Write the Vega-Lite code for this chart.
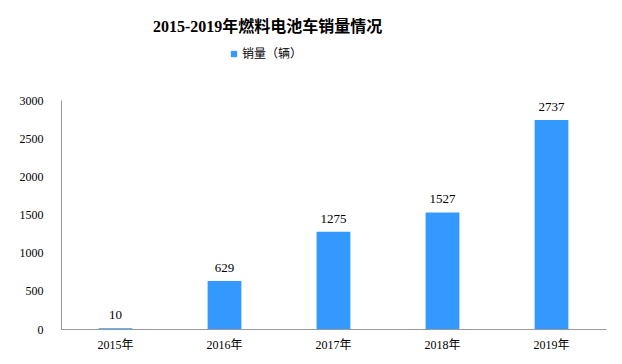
{
  "$schema": "https://vega.github.io/schema/vega-lite/v6.json",
  "width": 545,
  "height": 229,
  "autosize": "none",
  "padding": {"left": 61, "top": 100, "right": 16, "bottom": 35},
  "background": "white",
  "config": {"view": {"stroke": null}},
  "title": {
    "text": "2015-2019年燃料电池车销量情况",
    "font": "Liberation Serif, Noto Sans CJK SC",
    "fontSize": 16,
    "fontWeight": "bold",
    "color": "#000000",
    "anchor": "start",
    "dx": 134,
    "offset": 13
  },
  "data": {
    "values": [
      {"year": "2015年", "sales": 10, "series": "销量（辆）"},
      {"year": "2016年", "sales": 629, "series": "销量（辆）"},
      {"year": "2017年", "sales": 1275, "series": "销量（辆）"},
      {"year": "2018年", "sales": 1527, "series": "销量（辆）"},
      {"year": "2019年", "sales": 2737, "series": "销量（辆）"}
    ]
  },
  "encoding": {
    "x": {
      "field": "year",
      "type": "nominal",
      "sort": null,
      "scale": {"paddingInner": 0.69, "paddingOuter": 0.345},
      "axis": {
        "title": null,
        "labelAngle": 0,
        "ticks": false,
        "domainColor": "#999999",
        "labelFont": "Liberation Serif, Noto Sans CJK SC",
        "labelFontSize": 12,
        "labelColor": "#000000",
        "labelPadding": 10
      }
    },
    "y": {
      "field": "sales",
      "type": "quantitative",
      "scale": {"domain": [0, 3000]},
      "axis": {
        "title": null,
        "values": [0, 500, 1000, 1500, 2000, 2500, 3000],
        "format": "d",
        "grid": false,
        "ticks": false,
        "domainColor": "#999999",
        "labelFont": "Liberation Serif, Noto Sans CJK SC",
        "labelFontSize": 12,
        "labelColor": "#000000",
        "labelPadding": 18
      }
    }
  },
  "layer": [
    {
      "mark": {"type": "bar", "color": "#3399FF"},
      "encoding": {
        "color": {
          "field": "series",
          "type": "nominal",
          "scale": {"range": ["#3399FF"]},
          "legend": {
            "title": null,
            "orient": "none",
            "legendX": 167,
            "legendY": -52,
            "symbolType": "square",
            "symbolSize": 40,
            "symbolStrokeWidth": 0,
            "labelFont": "Noto Sans CJK SC",
            "labelFontSize": 12,
            "labelColor": "#000000",
            "labelOffset": 2
          }
        }
      }
    },
    {
      "mark": {
        "type": "text",
        "baseline": "bottom",
        "dy": -6,
        "font": "Liberation Serif",
        "fontSize": 13,
        "color": "#000000"
      },
      "encoding": {
        "text": {"field": "sales", "type": "quantitative"}
      }
    }
  ]
}
